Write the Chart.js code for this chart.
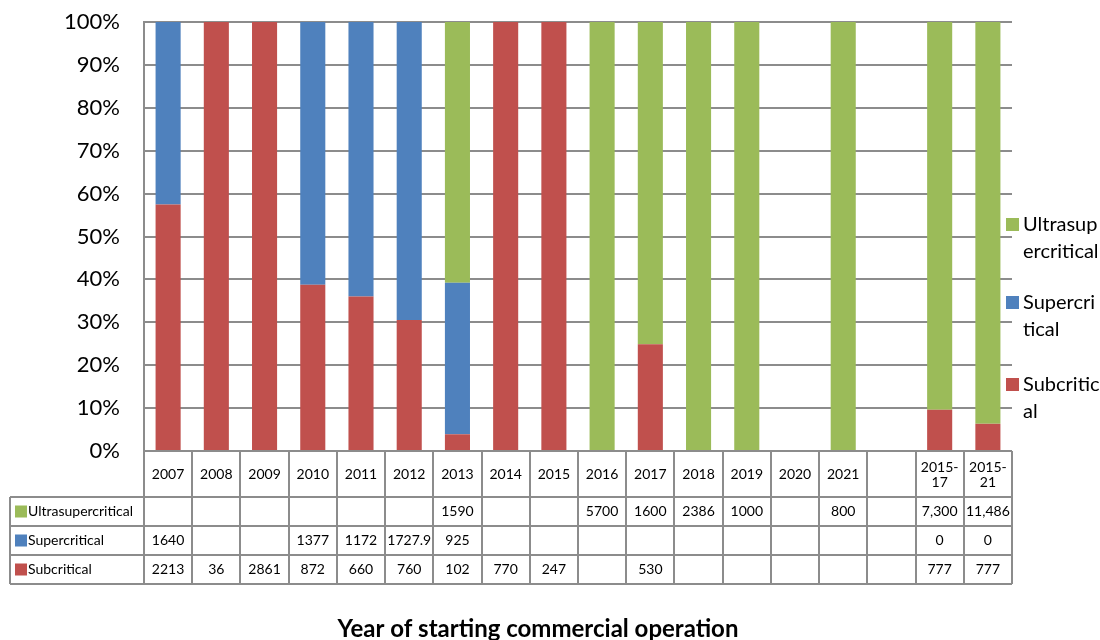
<!DOCTYPE html>
<html lang="en">
<head>
    <meta charset="UTF-8">
    <title>Year of starting commercial operation</title>
    <script src="https://cdn.jsdelivr.net/npm/chart.js"></script>
    <style>
        body {
            margin: 0;
            padding: 0;
            background-color: #ffffff;
        }
        #chart {
            display: block;
        }
    </style>
</head>
<body>
    <canvas id="chart" width="1100" height="640"></canvas>

    <script>
        const categories = ["2007", "2008", "2009", "2010", "2011", "2012", "2013", "2014", "2015",
                            "2016", "2017", "2018", "2019", "2020", "2021", "", "2015-17", "2015-21"];
        const ultraValues = [null, null, null, null, null, null, 1590, null, null,
                             5700, 1600, 2386, 1000, null, 800, null, 7300, 11486];
        const superValues = [1640, null, null, 1377, 1172, 1727.9, 925, null, null,
                             null, null, null, null, null, null, null, 0, 0];
        const subValues = [2213, 36, 2861, 872, 660, 760, 102, 770, 247,
                           null, 530, null, null, null, null, null, 777, 777];
        const yTicks = [0, 10, 20, 30, 40, 50, 60, 70, 80, 90, 100];

        const seriesNames = ["Ultrasupercritical", "Supercritical", "Subcritical"];
        const seriesColors = ["#9BBB59", "#4F81BD", "#C0504D"];
        const legendLines = [["Ultrasup", "ercritical"], ["Supercri", "tical"], ["Subcritic", "al"]];

        const FONT = "Lato, 'DejaVu Sans', sans-serif";
        const LINE = "#8c8c8c";

        // 100% apilado
        const totals = categories.map((c, i) => (ultraValues[i] || 0) + (superValues[i] || 0) + (subValues[i] || 0));
        function toPercent(values) {
            return values.map((v, i) => (v && totals[i] ? v / totals[i] * 100 : null));
        }

        function fmt(v, i) {
            if (v === null || v === undefined) return "";
            return i >= 16 ? v.toLocaleString("en-US") : String(v);
        }

        // Tabla de datos + leyenda + título dibujados debajo del gráfico
        const tablePlugin = {
            id: "dataTable",
            afterDraw(chart) {
                const c = chart.ctx;
                const xs = chart.scales.x;
                const area = chart.chartArea;
                const colW = (area.right - area.left) / categories.length;
                const top = area.bottom;
                const headerBottom = top + 46;
                const rowH = 29;
                const tableBottom = headerBottom + rowH * 3;
                const leftEdge = 10;

                c.save();
                c.strokeStyle = LINE;
                c.lineWidth = 2;

                // líneas verticales
                c.beginPath();
                for (let i = 0; i <= categories.length; i++) {
                    const x = Math.round(area.left + i * colW);
                    c.moveTo(x, top);
                    c.lineTo(x, tableBottom);
                }
                c.moveTo(leftEdge, headerBottom);
                c.lineTo(leftEdge, tableBottom);
                // líneas horizontales
                for (let r = 0; r <= 3; r++) {
                    const y = headerBottom + r * rowH;
                    c.moveTo(leftEdge, y);
                    c.lineTo(area.right, y);
                }
                c.stroke();

                // encabezados
                c.fillStyle = "#000";
                c.textAlign = "center";
                c.textBaseline = "middle";
                c.font = "14px " + FONT;
                categories.forEach((cat, i) => {
                    const x = xs.getPixelForValue(i);
                    const midY = (top + headerBottom) / 2;
                    if (cat.indexOf("-") > 0) {
                        const parts = cat.split("-");
                        c.fillText(parts[0] + "-", x, midY - 7);
                        c.fillText(parts[1], x, midY + 8);
                    } else {
                        c.fillText(cat, x, midY);
                    }
                });

                // filas de datos
                const rows = [ultraValues, superValues, subValues];
                rows.forEach((vals, r) => {
                    const midY = headerBottom + r * rowH + rowH / 2;
                    c.textAlign = "center";
                    vals.forEach((v, i) => {
                        c.fillText(fmt(v, i), xs.getPixelForValue(i), midY);
                    });
                    c.fillStyle = seriesColors[r];
                    c.fillRect(leftEdge + 5, midY - 6, 12, 12);
                    c.fillStyle = "#000";
                    c.textAlign = "left";
                    c.fillText(seriesNames[r], leftEdge + 18, midY);
                });

                // leyenda a la derecha
                const legendY = [225, 303, 385];
                c.font = "20px " + FONT;
                c.textAlign = "left";
                legendLines.forEach((lines, k) => {
                    const y = legendY[k];
                    c.fillStyle = seriesColors[k];
                    c.fillRect(1006, y - 7, 13, 13);
                    c.fillStyle = "#000";
                    c.fillText(lines[0], 1023, y);
                    c.fillText(lines[1], 1023, y + 27);
                });

                // título del eje
                c.font = "bold 24px " + FONT;
                c.textAlign = "center";
                c.fillText("Year of starting commercial operation", 538, 629);
                c.restore();
            }
        };

        const ctx = document.getElementById("chart").getContext("2d");
        new Chart(ctx, {
            type: "bar",
            data: {
                labels: categories,
                datasets: [
                    { label: "Subcritical", data: toPercent(subValues), backgroundColor: seriesColors[2] },
                    { label: "Supercritical", data: toPercent(superValues), backgroundColor: seriesColors[1] },
                    { label: "Ultrasupercritical", data: toPercent(ultraValues), backgroundColor: seriesColors[0] }
                ]
            },
            options: {
                responsive: false,
                animation: false,
                datasets: {
                    bar: { barPercentage: 0.52, categoryPercentage: 1.0 }
                },
                layout: { padding: { top: 22, right: 88, bottom: 189, left: 0 } },
                scales: {
                    x: { stacked: true, display: false },
                    y: {
                        stacked: true,
                        min: 0,
                        max: 100,
                        afterBuildTicks(scale) {
                            scale.ticks = yTicks.map(v => ({ value: v }));
                        },
                        afterFit(scale) {
                            scale.width = 144;
                            scale.paddingTop = 0;
                            scale.paddingBottom = 0;
                        },
                        ticks: {
                            padding: 24,
                            color: "#000",
                            font: { family: FONT, size: 22 },
                            callback: v => v + "%"
                        },
                        grid: { color: LINE, lineWidth: 2, drawTicks: false },
                        border: { color: LINE, width: 2 }
                    }
                },
                plugins: {
                    legend: { display: false },
                    tooltip: { enabled: false }
                }
            },
            plugins: [tablePlugin]
        });
    </script>
</body>
</html>
